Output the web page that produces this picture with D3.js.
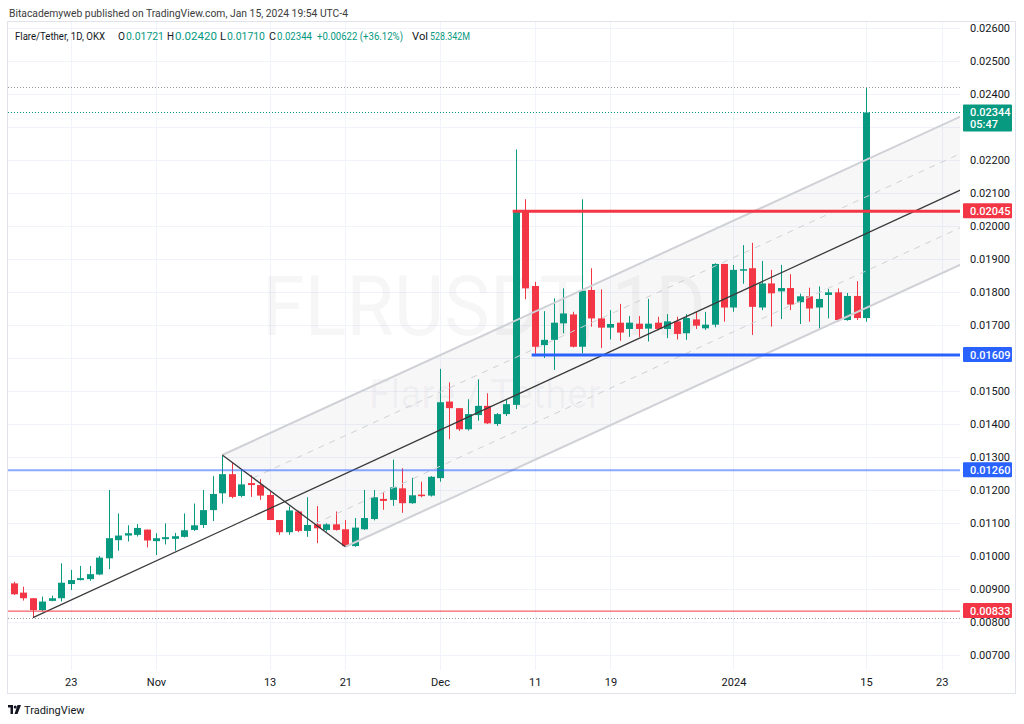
<!DOCTYPE html>
<html><head><meta charset="utf-8">
<script src="https://cdn.jsdelivr.net/npm/d3@7"></script>
<style>body{margin:0;background:#fff;} svg{display:block;font-family:Roboto,"Liberation Sans",sans-serif;}</style>
</head><body><svg id="c" width="1024" height="724"></svg>
<script>
// ---- data (FLR/USDT daily, OKX) ----
const firstDay = "2023-10-17";
const opens = [.00917,.00889,.00872,.00836,.00864,.00872,.00915,.00927,.00930,.00944,
 .00993,.01048,.01062,.01064,.01080,.01045,.01051,.01052,.01058,.01079,
 .01094,.01139,.01190,.01248,.01182,.01221,.01215,.01185,.01109,.01072,
 .01135,.01076,.01096,.01079,.01096,.01081,.01030,.01081,.01112,.01173,
 .01170,.01205,.01160,.01186,.01183,.01236,.01468,.01448,.01384,.01427,
 .01455,.01400,.01430,.01458,.02045,.01818,.01639,.01655,.01705,.01732,
 .01634,.01806,.01720,.01692,.01707,.01688,.01704,.01689,.01707,.01688,
 .01711,.01675,.01717,.01690,.01701,.01885,.01753,.01867,.01872,.01753,
 .01826,.01802,.01812,.01769,.01787,.01753,.01791,.01799,.01715,.01788,.01721];
const highs = [.00922,.00907,.00873,.00877,.00880,.00978,.00958,.00970,.00970,.01000,
 .01200,.01129,.01093,.01097,.01080,.01069,.01099,.01070,.01129,.01159,
 .01200,.01242,.01303,.01283,.01261,.01245,.01233,.01196,.01109,.01150,
 .01138,.01178,.01151,.01099,.01135,.01109,.01115,.01200,.01200,.01193,
 .01292,.01266,.01237,.01225,.01242,.01567,.01526,.01448,.01475,.01535,
 .01493,.01433,.01475,.02232,.02081,.01831,.01742,.01781,.01811,.01740,
 .02081,.01872,.01808,.01745,.01764,.01727,.01727,.01779,.01725,.01733,
 .01725,.01733,.01740,.01740,.01887,.01885,.01882,.01942,.01949,.01894,
 .01867,.01882,.01854,.01795,.01813,.01817,.01809,.01811,.01797,.01833,.02420];
const lows = [.00882,.00865,.00813,.00833,.00863,.00862,.00897,.00926,.00925,.00942,
 .00960,.01016,.01044,.01059,.01026,.01003,.01035,.01016,.01056,.01076,
 .01085,.01106,.01159,.01175,.01178,.01179,.01170,.01109,.01064,.01064,
 .01072,.01058,.01039,.01074,.01077,.01028,.01028,.01079,.01108,.01140,
 .01152,.01131,.01158,.01178,.01180,.01225,.01354,.01379,.01380,.01410,
 .01400,.01394,.01424,.01445,.01778,.01609,.01600,.01564,.01675,.01632,
 .01614,.01695,.01630,.01656,.01652,.01664,.01664,.01650,.01684,.01660,
 .01656,.01655,.01688,.01685,.01693,.01710,.01740,.01825,.01670,.01745,
 .01695,.01718,.01745,.01703,.01710,.01685,.01720,.01710,.01713,.01715,.01710];
const closes = [.00884,.00872,.00836,.00862,.00872,.00919,.00927,.00933,.00945,.00995,
 .01054,.01062,.01069,.01085,.01047,.01054,.01057,.01060,.01078,.01093,
 .01139,.01188,.01248,.01179,.01217,.01215,.01183,.01109,.01072,.01138,
 .01076,.01094,.01084,.01096,.01079,.01030,.01086,.01115,.01178,.01167,
 .01208,.01160,.01184,.01182,.01240,.01466,.01448,.01384,.01430,.01455,
 .01402,.01430,.01460,.02045,.01811,.01634,.01655,.01707,.01735,.01634,
 .01804,.01720,.01692,.01703,.01677,.01707,.01688,.01704,.01688,.01711,
 .01673,.01721,.01698,.01701,.01885,.01753,.01867,.01869,.01755,.01826,
 .01796,.01812,.01762,.01787,.01750,.01779,.01799,.01715,.01788,.01721,.02344];

const timeTickDates = ["2023-10-23","2023-11-01","2023-11-13","2023-11-21","2023-12-01","2023-12-11","2023-12-19","2024-01-01","2024-01-15","2024-01-23"];
const timeTickLabels = ["23","Nov","13","21","Dec","11","19","2024","15","23"];
const priceTicks = [0.007,0.008,0.009,0.010,0.011,0.012,0.013,0.014,0.015,0.016,0.017,0.018,0.019,0.020,0.021,0.022,0.023,0.024,0.025,0.026];

// horizontal levels: price, start day index (null = full width), colour, width
const levelPrices = [0.02045, 0.01609, 0.01260, 0.00833];
const levelStart  = [53, 55, null, null];
const levelColors = ["#f23645", "#2962ff", "#2962ff", "#f23645"];
const levelWidths = [3, 3, 2, 1];
const levelOpacity = [1, 1, 0.55, 1];

// drawings: [day index, price]
const channelUpper = [[22, 0.01306], [100, 0.02332]];
const channelLower = [[35, 0.01028], [100, 0.01883]];
const channelLevels = [0.25, 0.75];
const trendDown = [[22, 0.01306], [35, 0.01028]];
const trendUp = [[2, 0.00813], [100, 0.02109]];

const header = "Bitacademyweb published on TradingView.com, Jan 15, 2024 19:54 UTC-4";
const legendParts = [
  {t:"Flare/Tether, 1D, OKX", c:"#131722", x:15, w:90},
  {t:"O", c:"#131722", x:118, w:7}, {t:"0.01721", c:"#089981", x:126, w:38},
  {t:"H", c:"#131722", x:167, w:7}, {t:"0.02420", c:"#089981", x:175, w:42},
  {t:"L", c:"#131722", x:220, w:6}, {t:"0.01710", c:"#089981", x:227, w:38},
  {t:"C", c:"#131722", x:269, w:7}, {t:"0.02344", c:"#089981", x:277, w:35},
  {t:"+0.00622 (+36.12%)", c:"#089981", x:317, w:86},
  {t:"Vol", c:"#131722", x:412, w:16}, {t:"528.342M", c:"#089981", x:430, w:40}
];

// ---- layout ----
const svg = d3.select("#c");
const L = 8, R = 960, T = 21, B = 670;
const UP = "#089981", DN = "#f23645";
const dayMs = 864e5;
const t0 = new Date(firstDay + "T00:00:00Z");
const day = i => new Date(t0.getTime() + i * dayMs);
const dates = opens.map((_, i) => day(i));

const x = d3.scaleUtc().domain([day(0), day(90)]).range([14, 866]);
const y = d3.scaleLinear().domain([0.007, 0.026]).range([655, 28]);

svg.append("rect").attr("width",1024).attr("height",724).attr("fill","#fff");
svg.append("defs").append("clipPath").attr("id","plot")
  .append("rect").attr("x",L).attr("y",T).attr("width",R-L).attr("height",B-T);

// vertical grid (behind everything)
const tickDateObjs = timeTickDates.map(s => new Date(s + "T00:00:00Z"));
svg.append("g").selectAll("line").data(tickDateObjs).join("line")
  .attr("x1",d=>Math.round(x(d))+0.5).attr("x2",d=>Math.round(x(d))+0.5).attr("y1",T).attr("y2",B)
  .attr("stroke","#f0f3fa");

// header
svg.append("text").attr("x",9).attr("y",17).attr("font-size",11.5).attr("fill","#3b3b3b")
  .attr("textLength",339).attr("lengthAdjust","spacingAndGlyphs").text(header);

// frame
svg.append("rect").attr("x",7.5).attr("y",21.5).attr("width",1008).attr("height",672)
  .attr("fill","none").attr("stroke","#e0e3eb");

const plot = svg.append("g").attr("clip-path","url(#plot)");

// horizontal grid
plot.append("g").selectAll("line").data(priceTicks).join("line")
  .attr("x1",L).attr("x2",R).attr("y1",d=>Math.round(y(d))+0.5).attr("y2",d=>Math.round(y(d))+0.5)
  .attr("stroke","#f0f3fa");

// watermark
plot.append("text").attr("x",484).attr("y",335).attr("text-anchor","middle")
  .attr("font-size",84).attr("textLength",444).attr("lengthAdjust","spacingAndGlyphs")
  .attr("fill","rgba(19,23,34,0.04)").text("FLRUSDT, 1D");
plot.append("text").attr("x",485).attr("y",408).attr("text-anchor","middle")
  .attr("font-size",40).attr("textLength",232).attr("lengthAdjust","spacingAndGlyphs")
  .attr("fill","rgba(19,23,34,0.04)").text("Flare / Tether");

// channel fill
const pt = p => [x(day(p[0])), y(p[1])];
const poly = [pt(channelUpper[0]), pt(channelUpper[1]), pt(channelLower[1]), pt(channelLower[0])];
plot.append("path").attr("d", d3.line()(poly) + "Z").attr("fill","rgba(120,123,134,0.06)");

// legend
legendParts.forEach(p => svg.append("text").attr("x",p.x).attr("y",40).attr("font-size",10)
  .attr("fill",p.c).attr("textLength",p.w).attr("lengthAdjust","spacingAndGlyphs").text(p.t));

// candles
const cg = plot.append("g");
cg.selectAll("line").data(dates).join("line")
  .attr("x1",d=>Math.round(x(d))+0.5).attr("x2",d=>Math.round(x(d))+0.5)
  .attr("y1",(d,i)=>y(highs[i])).attr("y2",(d,i)=>y(lows[i]))
  .attr("stroke",(d,i)=>closes[i]>=opens[i]?UP:DN).attr("stroke-width",1);
cg.selectAll("rect").data(dates).join("rect")
  .attr("x",d=>Math.round(x(d))-3).attr("width",7)
  .attr("y",(d,i)=>y(Math.max(opens[i],closes[i])))
  .attr("height",(d,i)=>Math.max(1.5, Math.abs(y(opens[i])-y(closes[i]))))
  .attr("fill",(d,i)=>closes[i]>=opens[i]?UP:DN);

// channel lines
const seg = (a,b) => d3.line()([pt(a), pt(b)]);
plot.append("path").attr("d",seg(channelUpper[0],channelUpper[1])).attr("stroke","#cfd1d6").attr("stroke-width",2).attr("fill","none");
plot.append("path").attr("d",seg(channelLower[0],channelLower[1])).attr("stroke","#cfd1d6").attr("stroke-width",2).attr("fill","none");
channelLevels.forEach(f => {
  const a = [channelUpper[0][0] + f*(channelLower[0][0]-channelUpper[0][0]), channelUpper[0][1] + f*(channelLower[0][1]-channelUpper[0][1])];
  const b = [channelUpper[1][0], channelUpper[1][1] + f*(channelLower[1][1]-channelUpper[1][1])];
  plot.append("path").attr("d",seg(a,b)).attr("stroke","#cfd1d6").attr("stroke-width",1)
    .attr("stroke-dasharray","6,6").attr("fill","none");
});
plot.append("path").attr("d",seg(trendDown[0],trendDown[1])).attr("stroke","#3a3a3a").attr("stroke-width",1.3).attr("fill","none");
plot.append("path").attr("d",seg(trendUp[0],trendUp[1])).attr("stroke","#3a3a3a").attr("stroke-width",1.3).attr("fill","none");

// horizontal levels
levelPrices.forEach((p,k) => {
  const x1 = levelStart[k] === null ? L : x(day(levelStart[k])) - 3;
  plot.append("line").attr("x1",x1).attr("x2",R).attr("y1",y(p)).attr("y2",y(p))
    .attr("stroke",levelColors[k]).attr("stroke-width",levelWidths[k]).attr("stroke-opacity",levelOpacity[k]);
});

// high / low / last dotted lines
const hi = d3.max(highs), lo = d3.min(lows), last = closes[closes.length-1];
[[hi,"#9598a1"],[lo,"#9598a1"],[last,UP]].forEach(([p,c]) => {
  plot.append("line").attr("x1",L).attr("x2",R).attr("y1",Math.round(y(p))+0.5).attr("y2",Math.round(y(p))+0.5)
    .attr("stroke",c).attr("stroke-width",1).attr("stroke-dasharray","1,2");
});

// price tags geometry
const tags = levelPrices.map((p,k) => ({p, color:levelColors[k], lines:[d3.format(".5f")(p)]}))
  .concat([{p:last, color:UP, lines:[d3.format(".5f")(last), "05:47"]}]);
tags.forEach(t => { t.top = y(t.p) - 8; t.bot = t.top + 15 + (t.lines.length-1)*12; });

// price axis (labels mostly hidden behind a price tag are not drawn, like TradingView)
const shownTicks = priceTicks.filter(v => !tags.some(t => y(v) + 3 > t.top && y(v) - 3 < t.bot));
const ya = svg.append("g").attr("transform",`translate(${R+2},0)`)
  .call(d3.axisRight(y).tickValues(shownTicks).tickFormat(d3.format(".5f")).tickSize(0).tickPadding(8));
ya.select(".domain").remove();
ya.selectAll("text").attr("font-size",11).attr("fill","#131722").attr("font-family","Roboto, sans-serif");

// time axis
const xa = svg.append("g").attr("transform",`translate(0,${B})`)
  .call(d3.axisBottom(x).tickValues(tickDateObjs).tickFormat((d,i)=>timeTickLabels[i]).tickSize(0).tickPadding(8));
xa.select(".domain").remove();
xa.selectAll("text").attr("font-size",11).attr("fill","#131722").attr("font-family","Roboto, sans-serif");

// price tags
tags.forEach(t => {
  const g = svg.append("g");
  g.append("rect").attr("x",963).attr("y",t.top).attr("width",49).attr("height",t.bot-t.top).attr("rx",1).attr("fill",t.color);
  t.lines.forEach((s,j) => g.append("text").attr("x",970).attr("y",y(t.p)+4+j*12)
    .attr("font-size",11).attr("fill","#fff").attr("font-weight",500).text(s));
});

// TradingView mark
const lgm = svg.append("g").attr("transform","translate(8,704)").attr("fill","#131722");
lgm.append("rect").attr("x",0).attr("y",1).attr("width",5).attr("height",2.5);
lgm.append("rect").attr("x",2.5).attr("y",1).attr("width",2.5).attr("height",9);
lgm.append("circle").attr("cx",7.2).attr("cy",3).attr("r",1.5);
lgm.append("path").attr("d","M9.5 1 L13 1 L9.5 10 L6.5 10 Z");
svg.append("text").attr("x",24).attr("y",714).attr("font-size",11).attr("fill","#131722").text("TradingView");
</script></body></html>
